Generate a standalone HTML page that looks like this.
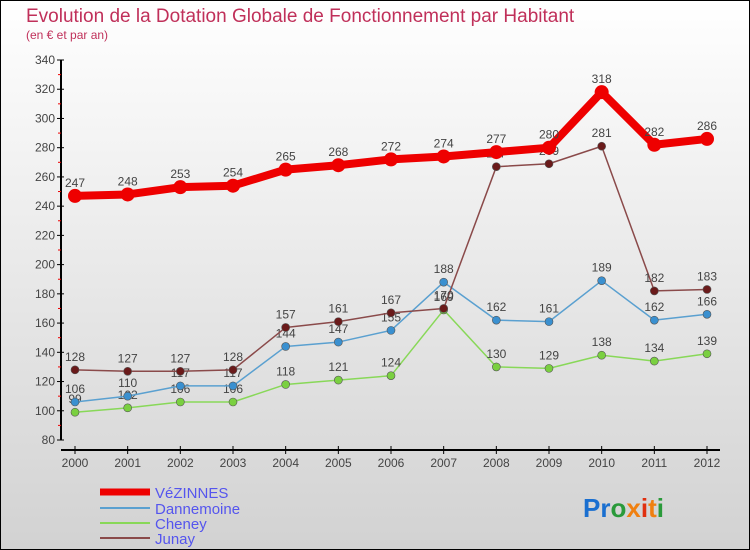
<!DOCTYPE html>
<html><head><meta charset="utf-8"><style>
body{margin:0;}
#wrap{width:750px;height:550px;position:relative;overflow:hidden;}
svg text{font-family:"Liberation Sans",sans-serif;}
</style></head><body>
<div id="wrap">
<svg id="svg" width="750" height="550" xmlns="http://www.w3.org/2000/svg">
<defs><linearGradient id="bg" x1="0" y1="0" x2="0" y2="1"><stop offset="0" stop-color="#ffffff"/><stop offset="1" stop-color="#d2d2d2"/></linearGradient></defs>
<rect x="0.5" y="0.5" width="749" height="549" fill="url(#bg)" stroke="#000"/>
<text x="26" y="22" font-size="19" fill="#c0305a">Evolution de la Dotation Globale de Fonctionnement par Habitant</text>
<text x="26" y="39" font-size="12" fill="#c0305a">(en € et par an)</text>
<g id="axes"></g><g id="series"></g>
<g>
<line x1="100" y1="492" x2="150" y2="492" stroke="#e00" stroke-width="7"/>
<text x="155" y="498" font-size="15" fill="#5555ee">VéZINNES</text>
<line x1="100" y1="508" x2="150" y2="508" stroke="#5aa0d0" stroke-width="2"/>
<text x="155" y="514" font-size="15" fill="#5555ee">Dannemoine</text>
<line x1="100" y1="523" x2="150" y2="523" stroke="#88d858" stroke-width="2"/>
<text x="155" y="529" font-size="15" fill="#5555ee">Cheney</text>
<line x1="100" y1="538" x2="150" y2="538" stroke="#8a4a4a" stroke-width="2"/>
<text x="155" y="544" font-size="15" fill="#5555ee">Junay</text>
</g>
<text x="583" y="517" font-size="26" font-weight="bold"><tspan fill="#1a6fd0">Pr</tspan><tspan fill="#2a9a3a">o</tspan><tspan fill="#f08010">x</tspan><tspan fill="#e03010">i</tspan><tspan fill="#f08010">t</tspan><tspan fill="#2a9a3a">i</tspan></text>
</svg></div>
<script>
const years=[2000,2001,2002,2003,2004,2005,2006,2007,2008,2009,2010,2011,2012];
const yTicks=[80,100,120,140,160,180,200,220,240,260,280,300,320,340];
const vezinnes=[247,248,253,254,265,268,272,274,277,280,318,282,286];
const dannemoine=[106,110,117,117,144,147,155,188,162,161,189,162,166];
const cheney=[99,102,106,106,118,121,124,169,130,129,138,134,139];
const junay=[128,127,127,128,157,161,167,170,267,269,281,182,183];
const NS="http://www.w3.org/2000/svg";
function X(i){return 75+i*(707-75)/12;}
function Y(v){return 440-(v-80)*380/260;}
function mk(t,a,p){const e=document.createElementNS(NS,t);for(const k in a)e.setAttribute(k,a[k]);p.appendChild(e);return e;}
const ax=document.getElementById('axes');
let e=mk('line',{x1:61,y1:60,x2:61,y2:440,stroke:'#000','stroke-width':2},ax);


e=mk('line',{x1:61,y1:450,x2:720,y2:450,stroke:'#000','stroke-width':2},ax);


yTicks.forEach((v,i)=>{
 mk('line',{x1:57,y1:Y(v),x2:64,y2:Y(v),stroke:'#000','stroke-width':1},ax);
 if(i<yTicks.length-1) mk('line',{x1:58,y1:Y(v+10),x2:61,y2:Y(v+10),stroke:'#e00','stroke-width':1},ax);
 const t=mk('text',{x:55,y:Y(v)+4,'font-size':12,'text-anchor':'end',fill:'#444'},ax);
 t.textContent=v;
 
 
});
years.forEach((y,i)=>{
 mk('line',{x1:X(i),y1:446,x2:X(i),y2:454,stroke:'#000','stroke-width':1},ax);
 const t=mk('text',{x:X(i),y:467,'font-size':12,'text-anchor':'middle',fill:'#444'},ax);
 t.textContent=y;
 
 
});
const sg=document.getElementById('series');
function draw(name,data,color,w,r,dot){
 const g=mk('g',{},sg);
 
 
 const pl=mk('polyline',{points:data.map((v,i)=>X(i)+','+Y(v)).join(' '),fill:'none',stroke:color,'stroke-width':w,'stroke-linejoin':'round'},g);
 
 
 data.forEach((v,i)=>{
  const c=mk('circle',{cx:X(i),cy:Y(v),r:r,fill:dot,stroke:'#555','stroke-width':r>5?0:0.6},g);
  
  
  const t=mk('text',{x:X(i),y:Y(v)-9,'font-size':12,'text-anchor':'middle',fill:'#444'},g);
  t.textContent=v;
  
  
 });
}
draw('cheney',cheney,'#88d858',1.5,4,'#7ad040');
draw('dannemoine',dannemoine,'#5aa0d0',1.5,4,'#3a90d0');
draw('junay',junay,'#8a4a4a',1.5,4,'#6a1a1a');
draw('vezinnes',vezinnes,'#e00',8,7,'#e00');
</script>
</body></html>
